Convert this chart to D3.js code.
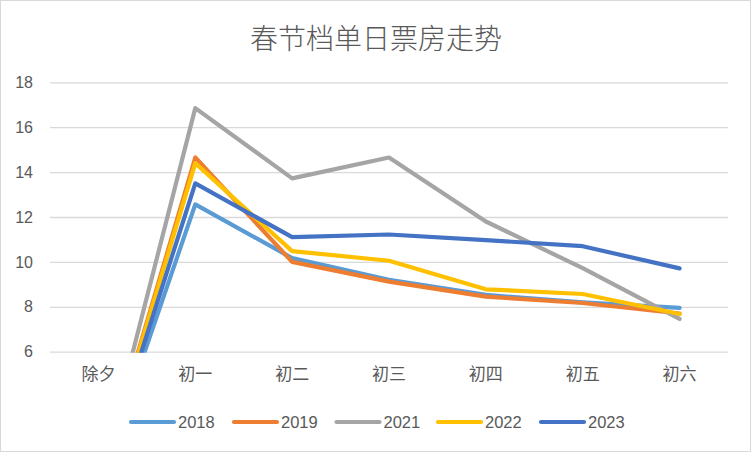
<!DOCTYPE html>
<html><head><meta charset="utf-8">
<script src="https://cdn.jsdelivr.net/npm/d3@7"></script>
<style>
html,body{margin:0;padding:0;background:#fff;}
svg{display:block;}
text{font-family:"Liberation Sans","Noto Sans CJK SC",sans-serif;fill:#595959;}
</style></head>
<body><svg id="c" width="751" height="452"></svg>
<script>
const title = "春节档单日票房走势";
const categories = ["除夕","初一","初二","初三","初四","初五","初六"];
const seriesNames = ["2018","2019","2021","2022","2023"];
const s2018 = [0, 12.56, 10.17, 9.2, 8.53, 8.2, 7.95];
const s2019 = [0, 14.65, 10.0, 9.12, 8.45, 8.17, 7.7];
const s2021 = [0, 16.85, 13.72, 14.65, 11.8, 9.72, 7.46];
const s2022 = [0, 14.4, 10.48, 10.05, 8.78, 8.57, 7.68];
const s2023 = [0, 13.5, 11.1, 11.22, 10.97, 10.7, 9.71];
const yTicks = [6, 8, 10, 12, 14, 16, 18];
const colors = ["#5B9BD5","#ED7D31","#A5A5A5","#FFC000","#4472C4"];
const allSeries = [s2018, s2019, s2021, s2022, s2023];

const svg = d3.select("#c");
const W = 751, H = 452;
svg.append("rect").attr("x",0.5).attr("y",0.5).attr("width",W-1).attr("height",H-1)
  .attr("fill","#fff").attr("stroke","#D9D9D9").attr("stroke-width",1);

const plot = {left:50, right:728, top:82.3, bottom:351.7};
const x = d3.scaleBand().domain(categories).range([plot.left, plot.right]);
const y = d3.scaleLinear().domain([6, 18]).range([plot.bottom, plot.top]);

svg.append("text").attr("x", 376).attr("y", 37).attr("text-anchor","middle")
  .attr("dominant-baseline","central").style("font-size","28px").style("font-family","'Noto Sans CJK SC',sans-serif").style("font-weight","300").text(title);

// grid
const yAxis = d3.axisLeft(y).tickValues(yTicks).tickSize(-(plot.right-plot.left)).tickPadding(17);
const gy = svg.append("g").attr("transform",`translate(${plot.left},0)`).call(yAxis);
gy.select(".domain").remove();
gy.selectAll(".tick line").attr("stroke","#D9D9D9").attr("stroke-width",1.3);
gy.selectAll(".tick text").style("font-size","16px").attr("fill","#595959");

const xAxis = d3.axisBottom(x).tickSize(0).tickPadding(16);
const gx = svg.append("g").attr("transform",`translate(0,${plot.bottom})`).call(xAxis);
gx.select(".domain").remove();
gx.selectAll(".tick text").style("font-size","17px").style("font-family","'Noto Sans CJK SC',sans-serif").attr("fill","#595959");

svg.append("clipPath").attr("id","clip").append("rect")
  .attr("x", plot.left).attr("y", plot.top-10).attr("width", plot.right-plot.left).attr("height", plot.bottom + 1 - plot.top + 10);

const line = d3.line().x((d,i)=>x(categories[i]) + x.bandwidth()/2).y(d=>y(d));
const lg = svg.append("g").attr("clip-path","url(#clip)");
allSeries.forEach((s, k) => {
  lg.append("path").datum(s).attr("d", line).attr("fill","none")
    .attr("stroke", colors[k]).attr("stroke-width", 4.2)
    .attr("stroke-linecap","round").attr("stroke-linejoin","round");
});

// legend
const legStart = [131, 234, 336.5, 438, 541];
const leg = svg.append("g");
seriesNames.forEach((n, k) => {
  const g = leg.append("g").attr("transform", `translate(${legStart[k]},422)`);
  g.append("line").attr("x1",0).attr("x2",43).attr("y1",0).attr("y2",0)
    .attr("stroke", colors[k]).attr("stroke-width",4.2).attr("stroke-linecap","round");
  g.append("text").attr("x",47).attr("y",0).attr("dominant-baseline","central")
    .style("font-size","16.5px").text(n);
});
</script></body></html>
